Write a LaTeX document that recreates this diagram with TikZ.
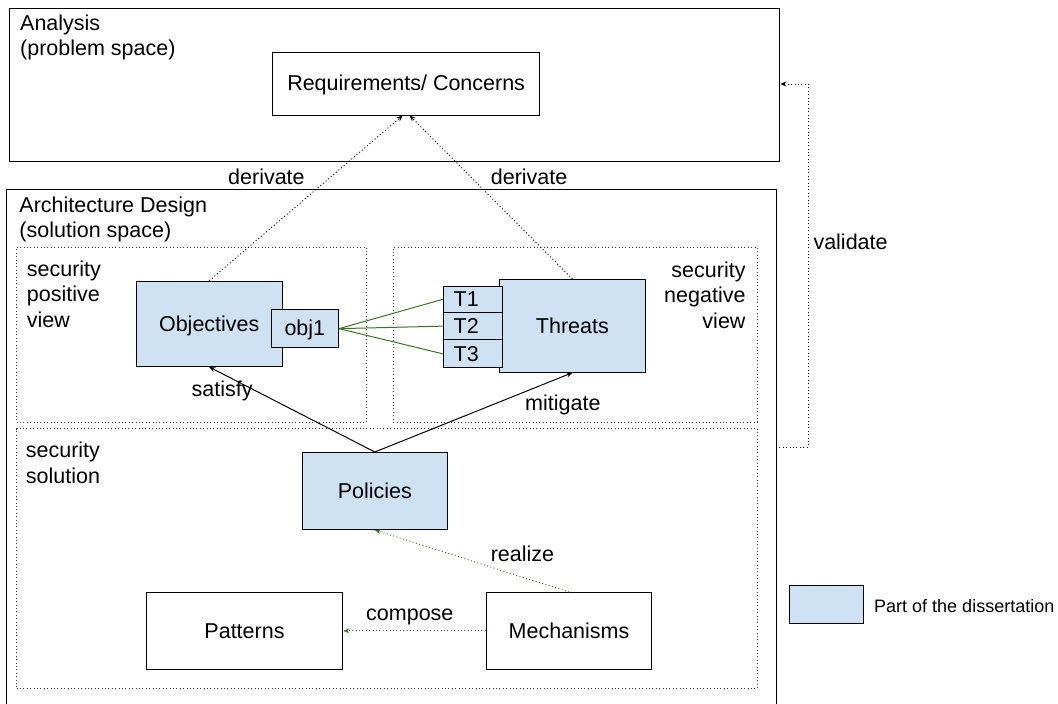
\documentclass[tikz,border=0pt]{standalone}
\usepackage{fontspec}
\setmainfont{Liberation Sans}
\usetikzlibrary{arrows.meta}
\definecolor{partblue}{HTML}{CFE2F3}
\definecolor{lgreen}{HTML}{38761D}
\definecolor{dotgray}{HTML}{3A3A3A}
\begin{document}
\begin{tikzpicture}[x=1pt,y=-1pt,
  mainfont/.style={font=\fontsize{21.5}{25.5}\selectfont},
  lbl/.style={mainfont, inner sep=0pt, align=left, anchor=base west},
  box/.style={draw=black, line width=1pt, rectangle, inner sep=0pt, mainfont,
    anchor=north west, text height=14.5pt, text depth=0pt},
  partbox/.style={box, fill=partblue},
  tbox/.style={partbox, inner xsep=10.5pt, text width=38pt, align=left, minimum width=59pt},
  framebox/.style={draw=black, line width=1pt, rectangle, inner sep=0pt, anchor=north west},
  region/.style={draw=dotgray, line width=1pt, dash pattern=on 1pt off 2.4pt,
    rectangle, inner sep=0pt, anchor=north west},
  tip/.style={-{Stealth[length=6pt,width=5pt]}},
  dotarrow/.style={draw=black, line width=0.9pt, dash pattern=on 1pt off 2.4pt, tip},
  greendot/.style={draw=lgreen, line width=0.9pt, dash pattern=on 1pt off 2.4pt, tip},
  solidarrow/.style={draw=black, line width=1pt, tip},
  greenline/.style={draw=lgreen, line width=1pt}
]
\useasboundingbox (0,0) rectangle (1058,704);

% containers
\node[framebox, minimum width=770.8pt, minimum height=152.2pt] (analysis) at (8.5,8.3) {};
\node[framebox, minimum width=770.5pt, minimum height=520pt] (arch) at (5.5,188.5) {};
\node[region, minimum width=350pt, minimum height=175pt] (posview) at (16,246.7) {};
\node[region, minimum width=364pt, minimum height=175pt] (negview) at (392.7,246.7) {};
\node[region, minimum width=740.7pt, minimum height=260pt] (solution) at (16,428) {};

% container labels (base anchor = baseline of the last line)
\node[lbl] (analysislbl) at (20,55.7) {Analysis\\(problem space)};
\node[lbl] (archlbl) at (19.3,237.7) {Architecture Design\\(solution space)};
\node[lbl] (poslbl) at (26.7,327.2) {security\\positive\\view};
\node[lbl, align=right, anchor=base east] (neglbl) at (745.7,328) {security\\negative\\view};
\node[lbl] (sollbl) at (25.7,483.3) {security\\solution};

% nodes
\node[box, minimum width=267.3pt, minimum height=62.8pt] (req) at (272,51.7) {Requirements/ Concerns};
\node[partbox, minimum width=145.5pt, minimum height=85.3pt] (obj) at (136,280.7) {Objectives};
\node[partbox, minimum width=67.3pt, minimum height=38.3pt] (obj1) at (270.7,309) {obj1};
\node[partbox, minimum width=145.8pt, minimum height=92.7pt] (threats) at (499,279) {Threats};
\node[tbox, minimum height=26.3pt] (t1) at (442.7,285.7) {T1};
\node[tbox, minimum height=27.3pt] (t2) at (442.7,312) {T2};
\node[tbox, minimum height=28pt] (t3) at (442.7,339.3) {T3};
\node[partbox, minimum width=145.3pt, minimum height=77pt] (pol) at (301.7,452) {Policies};
\node[box, minimum width=196.6pt, minimum height=76.7pt] (pat) at (145.7,592) {Patterns};
\node[box, minimum width=165.5pt, minimum height=76.7pt] (mech) at (485.8,592) {Mechanisms};

% legend
\node[partbox, minimum width=74pt, minimum height=37.7pt] (legend) at (789.3,585) {};
\node[lbl, font=\fontsize{18}{22}\selectfont] (legendlbl) at (874,612.7) {Part of the dissertation};

% connectors
\draw[dotarrow] (obj.north) -- ([xshift=-3.5pt]req.south);
\draw[dotarrow] (threats.north) -- ([xshift=3.5pt]req.south);
\node[lbl] (der1) at (228,184.3) {derivate};
\node[lbl] (der2) at (490.7,184.3) {derivate};

\draw[greenline] (obj1.east) -- (t1.west);
\draw[greenline] (obj1.east) -- (t2.west);
\draw[greenline] (obj1.east) -- (t3.west);

\draw[solidarrow] (pol.north) -- (obj.south);
\draw[solidarrow] (pol.north) -- (threats.south);
\node[lbl] (satlbl) at (191.4,396.7) {satisfy};
\node[lbl] (mitlbl) at (525,410.7) {mitigate};

\draw[greendot] (mech.north) -- (pol.south);
\node[lbl] (reallbl) at (490.6,561.7) {realize};
\draw[greendot] (mech.west) -- (pat.east);
\node[lbl] (complbl) at (366,620) {compose};

\coordinate (vstart) at (776,447);
\coordinate (vcorner) at (808.3,84);
\draw[dotarrow] (vstart) -| (vcorner) -- (analysis.east |- vcorner);
\node[lbl] (vallbl) at (813.3,249.3) {validate};
\end{tikzpicture}
\end{document}
